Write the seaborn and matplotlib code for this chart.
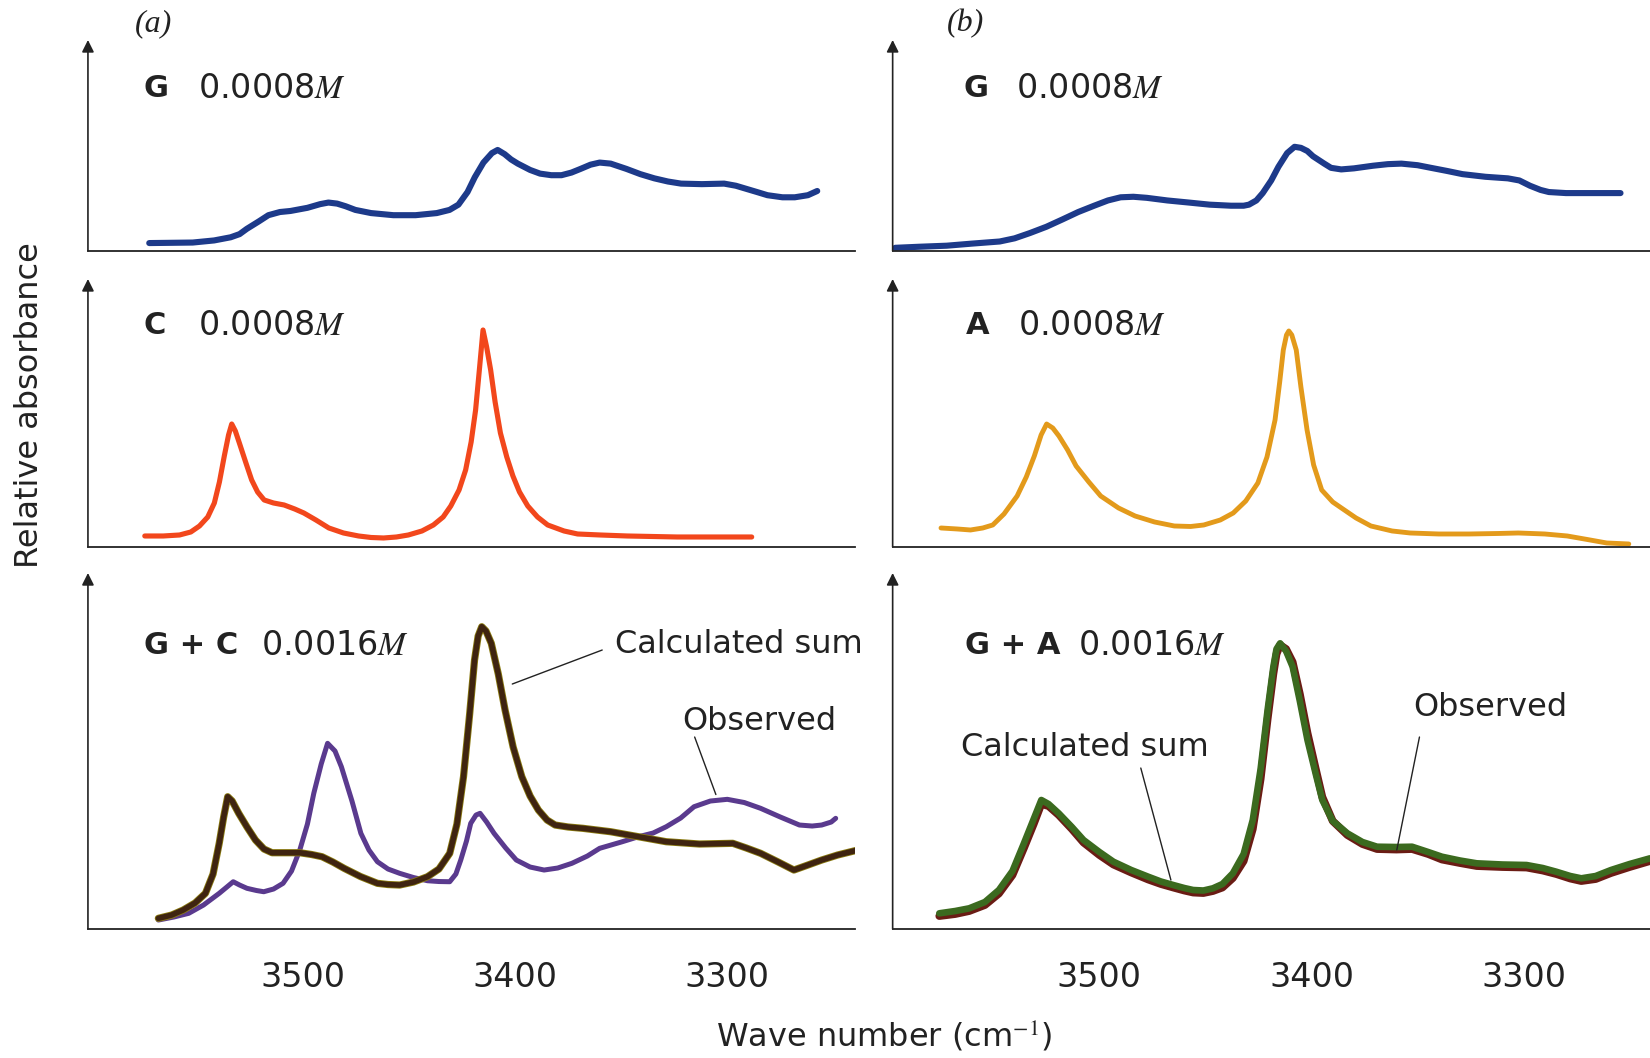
import numpy as np
import pandas as pd
import matplotlib.pyplot as plt
import seaborn as sns

# Dati (numero d'onda in cm^-1, assorbanza relativa in unita' arbitrarie)
g_a_wn = [3572.6, 3560, 3552.1, 3542, 3534.2, 3530, 3526.6, 3521, 3516.4, 3511, 3506, 3498,
          3492, 3488.1, 3484, 3480, 3475.4, 3468, 3457.5, 3447, 3437, 3431, 3426.8, 3422.5,
          3419.1, 3415, 3411, 3408.3, 3405, 3402, 3398.8, 3393, 3388.3, 3383, 3378.2, 3373.5,
          3369.2, 3364.5, 3360.2, 3355, 3347.6, 3341, 3334.4, 3328, 3321.8, 3312, 3301.5, 3296,
          3291, 3286, 3281.1, 3274, 3268.2, 3262, 3257.6]
g_a_abs = [7.5, 7.8, 8, 10, 13, 16, 21, 28, 34, 37, 38, 41, 44.5, 46, 45, 42.5, 39, 36, 34, 34,
           36, 39, 44, 56, 70, 84, 93, 96, 92, 87, 83, 77, 73.5, 72, 72, 74.5, 78, 82, 84, 83,
           78, 73, 69, 66, 64, 63.5, 64, 62, 59, 56, 53, 51, 51, 53, 57]

g_b_wn = [3596.3, 3585, 3572, 3560, 3547, 3540, 3532.8, 3525, 3517.4, 3510, 3502.5, 3496,
          3490, 3484, 3477.7, 3468, 3457.8, 3448, 3438, 3432, 3429.5, 3426, 3423, 3419,
          3415.6, 3411.5, 3408, 3405, 3402, 3399.3, 3394, 3390.8, 3386, 3380, 3371, 3364,
          3357.6, 3350, 3343.7, 3336, 3328.8, 3318, 3307.4, 3302, 3297, 3292, 3288.1, 3280,
          3274.2, 3254.3]
g_b_abs = [3, 4, 5, 7, 9, 12, 17, 23, 30, 37, 43, 48, 51, 51.5, 50.5, 48, 46, 44, 43, 43, 44,
           48, 55, 67, 80, 93, 99, 98, 95, 90, 83, 79, 77.5, 78.5, 81, 82.5, 83, 81.5, 79, 76,
           73, 70.5, 69, 67, 62, 58, 56, 55, 55, 55]

c_wn = [3574.7, 3566, 3558.3, 3553, 3548.9, 3545, 3541.9, 3539.5, 3537.2, 3535.2, 3533.7,
        3532, 3530.1, 3527, 3524.3, 3521.5, 3518.4, 3514, 3509, 3504, 3499.7, 3494, 3487.9,
        3481, 3473.9, 3468, 3462.1, 3456, 3450.4, 3444, 3438.6, 3434, 3430.4, 3426.5, 3423.4,
        3420.8, 3418.7, 3416.8, 3415.2, 3413.5, 3411.6, 3409.5, 3407, 3404, 3401.1, 3398,
        3394.1, 3389.5, 3384.7, 3377, 3370.6, 3360, 3347.2, 3323.7, 3288.5]
c_abs = [11, 11, 12, 15, 21, 30, 44, 65, 91, 112, 123, 116, 104, 84, 67, 55, 47, 44, 42, 38,
         34, 27, 19, 14, 11, 9.5, 9, 10, 12, 16, 22, 30, 41, 57, 77, 105, 137, 180, 217, 200,
         177, 145, 114, 90, 71, 55, 41, 30, 22, 16, 13, 12, 11, 10, 10]

a_wn = [3574.7, 3567, 3560.8, 3555, 3550.3, 3545, 3538.8, 3534.5, 3530.7, 3527.5, 3524.9,
        3522, 3519.1, 3515, 3511, 3505, 3499.4, 3491, 3483.2, 3474, 3464.7, 3457, 3450.8,
        3443, 3436.9, 3431, 3425.3, 3421, 3417.2, 3415, 3413.3, 3411.8, 3410.7, 3409.3,
        3407.2, 3405, 3402.1, 3399, 3395.2, 3390, 3385.9, 3379, 3372, 3362, 3353.5, 3340,
        3325.7, 3312, 3302.5, 3290, 3279.4, 3270, 3260.8, 3250.4]
a_abs = [19, 18, 17, 19, 22, 33, 51, 70, 91, 112, 123, 119, 111, 97, 81, 65, 51, 39, 31, 25,
         21, 20.5, 22, 27, 34, 46, 64, 90, 127, 165, 197, 212, 216, 212, 197, 160, 117, 82, 57,
         45, 39, 29, 21, 16, 14, 13, 13, 13.5, 14, 13, 11, 7.5, 4, 3]

gc_calc_wn = [3568.3, 3562, 3556.6, 3551, 3546.1, 3542.5, 3539.6, 3537.5, 3535.6, 3533.5,
              3530.4, 3526.5, 3522.5, 3518.5, 3514.7, 3508, 3501.6, 3496, 3491.1, 3486,
              3480.7, 3473, 3465, 3460, 3454.5, 3448, 3441.4, 3436, 3430.9, 3427.5, 3424.4,
              3421.5, 3419.2, 3417.5, 3415.8, 3413.8, 3411.3, 3408, 3404.8, 3401, 3396.9, 3393,
              3389.1, 3385, 3381.2, 3375, 3368.1, 3355, 3341.9, 3328.8, 3313.1, 3302, 3297.4,
              3291, 3284.3, 3276, 3268.6, 3262, 3255.5, 3248, 3238.5]
gc_calc_abs = [10.7, 14, 19, 26, 35.7, 55, 85.7, 112, 132.3, 128, 115.7, 102, 89, 80, 76.3,
               76.3, 76.3, 74.5, 72.3, 67, 60.7, 52.5, 45.7, 44.5, 44, 47, 52.3, 60, 75.7, 105,
               152.3, 215, 269, 293, 302.3, 298, 285.7, 255, 219, 182, 152.3, 133, 119, 109,
               104, 102, 100.7, 97.3, 92.3, 87.3, 85, 85.5, 85.7, 81, 75.7, 67, 59, 64, 69,
               74, 79]

gc_obs_wn = [3568.3, 3561, 3554, 3547, 3539.6, 3536, 3533, 3530, 3526.5, 3522, 3518.6, 3514,
             3509.5, 3505.5, 3501.6, 3498, 3495, 3491.5, 3488.5, 3485, 3482, 3477, 3472.8, 3469,
             3465, 3460, 3454.5, 3448, 3441.4, 3436, 3430.9, 3428, 3425.7, 3423, 3421, 3418.5,
             3416.6, 3413.5, 3410, 3404.5, 3399.5, 3393, 3386.4, 3380, 3373.3, 3366, 3360.2,
             3350, 3341.9, 3335, 3328.8, 3322, 3315.7, 3308, 3300, 3292, 3284.3, 3275, 3266,
             3260, 3255.5, 3251, 3248.9]
gc_obs_abs = [9, 12, 15.7, 24, 35.7, 42, 47.3, 44, 40.7, 38.5, 37.3, 40, 45.7, 58, 79, 105,
              135.7, 165, 185.7, 178, 162.3, 128, 95.7, 79, 67.3, 60, 55.7, 51.5, 48.3, 47.5,
              47.3, 55, 69, 88, 105.7, 114, 115.7, 107, 95.7, 81, 69, 62, 59, 61, 65.7, 73,
              80.7, 87, 92.3, 96, 102.3, 111, 122.3, 128, 129.7, 126.5, 120.7, 112, 104, 103,
              104, 107, 110.7]

ga_wn = [3575.5, 3568, 3561.4, 3554, 3547.4, 3541, 3535.6, 3531, 3527.4, 3524, 3519.2, 3513,
         3507.5, 3500, 3493.4, 3485, 3477, 3471, 3465.2, 3460, 3455.8, 3451, 3446.5, 3442,
         3437.1, 3432, 3427.7, 3424, 3420.7, 3418, 3416.5, 3414.8, 3412, 3408.9, 3405.5,
         3401.9, 3398, 3394.9, 3390, 3383.1, 3376, 3369.1, 3360, 3352.6, 3345, 3338.5, 3330,
         3322.1, 3310, 3298.6, 3291, 3284.6, 3278, 3272.8, 3266, 3258.8, 3250, 3240.4]
ga_obs_abs = [15.7, 18, 20.7, 27, 39, 58, 85.7, 110, 129, 125, 115.7, 102, 89, 77, 67.3, 59,
              52.3, 47.5, 44, 41, 39, 38.5, 40.7, 45, 55.7, 75, 109, 160, 219, 262, 280, 285.7,
              278, 262.3, 228, 189, 155, 129, 108, 95.7, 87, 82.3, 82, 82.3, 77, 72.3, 68.5,
              65.7, 64.5, 64, 61, 57.3, 53, 50.7, 53, 59, 65, 70.7]
ga_calc_abs = [13, 15, 18, 24, 35.5, 54, 81, 105, 125, 123, 114, 100, 86.5, 74, 64.5, 56.5,
               49.5, 45, 41.5, 38.5, 36.5, 36, 38, 41.5, 51, 68, 100, 150, 210, 255, 275, 284,
               280, 267, 235, 196, 160, 132, 108, 94, 85, 80, 79.5, 80, 75, 69.5, 66, 63, 62,
               61.5, 58.5, 55, 50.5, 48, 50, 56, 62, 68]

tick_vals = [3500, 3400, 3300]

sns.set_style('white')
plt.rcParams['font.family'] = ['DejaVu Sans']
plt.rcParams['mathtext.fontset'] = 'stix'

fig = plt.figure(figsize=(16.5, 10.58), dpi=100)

# posizioni dei pannelli (frazioni della figura)
col_x = [(0.0533, 0.465), (0.541, 0.459)]
row_y = [(0.7628, 0.1994, 200.5), (0.4830, 0.2533, 268), (0.1219, 0.3365, 356)]
xlims = [(3601.5, 3239.7), (3597.5, 3240.4)]

axes = {}
for c, (x0, w) in enumerate(col_x):
    for r, (y0, h, ytop) in enumerate(row_y):
        ax = fig.add_axes([x0, y0, w, h])
        ax.set_xlim(*xlims[c])
        ax.set_ylim(0, ytop)
        sns.despine(ax=ax, top=True, right=True, left=True)
        ax.spines['bottom'].set_color('#222222')
        ax.spines['bottom'].set_linewidth(1.3)
        ax.set_yticks([])
        ax.annotate('', xy=(0, 1.0), xytext=(0, 0), xycoords='axes fraction',
                    arrowprops=dict(arrowstyle='-|>', color='#222222', lw=1.2,
                                    mutation_scale=18, shrinkA=0, shrinkB=0))
        if r == 2:
            ax.set_xticks(tick_vals)
            ax.tick_params(axis='x', direction='in', length=24, width=1, color='#222222',
                           pad=23, labelsize=24, labelcolor='#222222')
        else:
            ax.set_xticks([])
        ax.patch.set_alpha(0)
        axes[(r, c)] = ax

def line(ax, x, y, color, lw, z=2):
    sns.lineplot(x=x, y=y, ax=ax, color=color, lw=lw, sort=False, estimator=None,
                 zorder=z, solid_joinstyle='round', solid_capstyle='round')

blue = '#1d3a8a'
line(axes[(0, 0)], g_a_wn, g_a_abs, blue, 4.4)
line(axes[(0, 1)], g_b_wn, g_b_abs, blue, 4.4)
line(axes[(1, 0)], c_wn, c_abs, '#f2471c', 3.7)
line(axes[(1, 1)], a_wn, a_abs, '#e39a1b', 3.5)
line(axes[(2, 0)], gc_obs_wn, gc_obs_abs, '#5a3a8e', 3.6)
line(axes[(2, 0)], gc_calc_wn, gc_calc_abs, '#8a7a10', 5.2, z=3)
line(axes[(2, 0)], gc_calc_wn, gc_calc_abs, '#3f2410', 4.0, z=4)
line(axes[(2, 1)], ga_wn, ga_calc_abs, '#6a1c14', 5.6)
line(axes[(2, 1)], ga_wn, ga_obs_abs, '#3b6a1f', 4.8, z=3)

# etichette dei pannelli
fs = 24
labels = [
    ((0, 0), 'G', 0.073, '0.0008$M$', 0.143, 0.770),
    ((1, 0), 'C', 0.073, '0.0008$M$', 0.143, 0.825),
    ((2, 0), 'G + C', 0.073, '0.0016$M$', 0.2256, 0.797),
    ((0, 1), 'G', 0.094, '0.0008$M$', 0.163, 0.770),
    ((1, 1), 'A', 0.096, '0.0008$M$', 0.165, 0.825),
    ((2, 1), 'G + A', 0.096, '0.0016$M$', 0.245, 0.797),
]
for key, name, xn, conc, xc, yy in labels:
    ax = axes[key]
    ax.text(xn, yy, name, transform=ax.transAxes, fontsize=22, fontweight='bold',
            ha='left', va='center', color='#222222')
    ax.text(xc, yy, conc, transform=ax.transAxes, fontsize=fs, ha='left', va='center',
            color='#222222')

# annotazioni
def note(ax, text, xt, yt, p0, p1):
    ax.text(xt, yt, text, fontsize=23, ha='left', va='center', color='#222222', clip_on=False)
    ax.annotate('', xy=p1, xytext=p0,
                arrowprops=dict(arrowstyle='-', color='#222222', lw=1.0, shrinkA=0, shrinkB=0))

note(axes[(2, 0)], 'Calculated sum', 3352.9, 285, (3359, 279), (3401.4, 245))
note(axes[(2, 0)], 'Observed', 3321.3, 208, (3315.4, 192), (3305.4, 134.5))
note(axes[(2, 1)], 'Calculated sum', 3565.4, 182, (3480.5, 161), (3466.3, 49))
note(axes[(2, 1)], 'Observed', 3352.2, 222, (3349.1, 192), (3359.8, 79))

fig.text(0.093, 0.978, '(a)', fontsize=23, style='italic', family='Liberation Serif',
         ha='center', va='center', color='#222222')
fig.text(0.585, 0.978, '(b)', fontsize=23, style='italic', family='Liberation Serif',
         ha='center', va='center', color='#222222')

fig.text(0.0176, 0.617, 'Relative absorbance', rotation=90, fontsize=23, ha='center',
         va='center', color='#222222')
fig.text(0.536, 0.021, 'Wave number (cm$^{-1}$)', fontsize=23, ha='center', va='center',
         color='#222222')

fig.savefig('out.png', dpi=100)
